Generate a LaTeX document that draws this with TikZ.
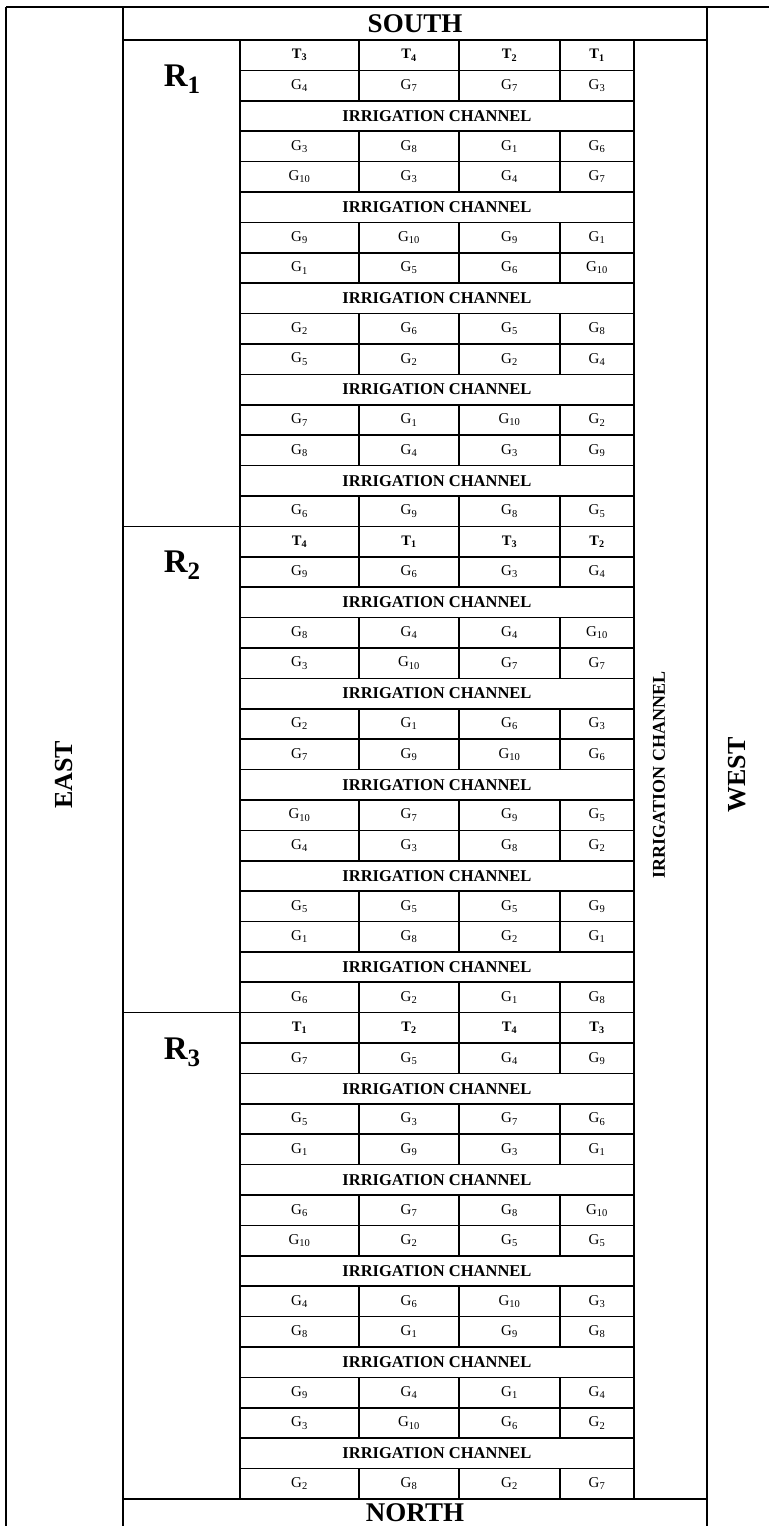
\documentclass[tikz,border=0pt]{standalone}
\usepackage{fontspec}
\usepackage{graphicx}
\setmainfont{Liberation Serif}
\newcommand\repsub[1]{\raisebox{-0.22em}{\fontsize{25}{25}\selectfont #1}}
\begin{document}
\begin{tikzpicture}[x=1pt,y=-1pt,line width=1.6pt,
  cell/.style={draw,rectangle,inner sep=0pt,outer sep=0pt,minimum height=30.396pt,font=\fontsize{15}{15}\selectfont},
  tcell/.style={cell,font=\fontsize{14.5}{14.5}\selectfont\bfseries},
  chan/.style={cell,minimum width=394pt,font=\fontsize{16.5}{16.5}\selectfont\bfseries},
  head/.style={inner sep=0pt,font=\fontsize{27}{27}\selectfont\bfseries},
  side/.style={inner sep=0pt,rotate=90,font=\fontsize{26}{26}\selectfont\bfseries},
  vchan/.style={inner sep=0pt,rotate=90,font=\fontsize{18}{18}\selectfont\bfseries},
  rep/.style={inner sep=0pt,font=\fontsize{33}{33}\selectfont\bfseries}]
\useasboundingbox (0,0) rectangle (769,1526);
% frame
\draw (6,7) -- (769,7);
\draw (6,7) -- (6,1526);
\draw (123,7) -- (123,1526);
\draw (707,7) -- (707,1526);
\draw (123,40) -- (707,40);
\draw (123,1499) -- (707,1499);
\draw (123,526.33) -- (240,526.33);
\draw (123,1012.67) -- (240,1012.67);
\draw (634,40) -- (634,1499);
% headers
\node[head] (south) at (415,24) {SOUTH};
\node[head] (north) at (415,1513) {NORTH};
\node[side] (east) at (64,775) {EAST};
\node[side] (west) at (737,775) {WEST};
\node[vchan] (vch) at (659,775) {IRRIGATION CHANNEL};
\node[rep] (r1) at (182,79) {R\repsub{1}};
\node[rep] (r2) at (182,565) {R\repsub{2}};
\node[rep] (r3) at (182,1052) {R\repsub{3}};
% treatment rows
\foreach \i/\a/\b/\c/\d in {0/3/4/2/1,16/4/1/3/2,32/1/2/4/3}{
  \pgfmathsetmacro\yc{40+(\i+0.5)*30.396}
  \node[tcell,minimum width=119pt] (t\i a) at (299.5,\yc) {T\textsubscript{\a}};
  \node[tcell,minimum width=100pt] (t\i b) at (409,\yc) {T\textsubscript{\b}};
  \node[tcell,minimum width=101pt] (t\i c) at (509.5,\yc) {T\textsubscript{\c}};
  \node[tcell,minimum width=74pt] (t\i d) at (597,\yc) {T\textsubscript{\d}};
}
% genotype rows
\foreach \i/\a/\b/\c/\d in {
  1/4/7/7/3, 3/3/8/1/6, 4/10/3/4/7, 6/9/10/9/1, 7/1/5/6/10,
  9/2/6/5/8, 10/5/2/2/4, 12/7/1/10/2, 13/8/4/3/9, 15/6/9/8/5,
  17/9/6/3/4, 19/8/4/4/10, 20/3/10/7/7, 22/2/1/6/3, 23/7/9/10/6,
  25/10/7/9/5, 26/4/3/8/2, 28/5/5/5/9, 29/1/8/2/1, 31/6/2/1/8,
  33/7/5/4/9, 35/5/3/7/6, 36/1/9/3/1, 38/6/7/8/10, 39/10/2/5/5,
  41/4/6/10/3, 42/8/1/9/8, 44/9/4/1/4, 45/3/10/6/2, 47/2/8/2/7}{
  \pgfmathsetmacro\yc{40+(\i+0.5)*30.396}
  \node[cell,minimum width=119pt] (g\i a) at (299.5,\yc) {G\textsubscript{\a}};
  \node[cell,minimum width=100pt] (g\i b) at (409,\yc) {G\textsubscript{\b}};
  \node[cell,minimum width=101pt] (g\i c) at (509.5,\yc) {G\textsubscript{\c}};
  \node[cell,minimum width=74pt] (g\i d) at (597,\yc) {G\textsubscript{\d}};
}
% irrigation channel rows
\foreach \i in {2,5,8,11,14,18,21,24,27,30,34,37,40,43,46}{
  \pgfmathsetmacro\yc{40+(\i+0.5)*30.396}
  \node[chan] (ic\i) at (437,\yc) {IRRIGATION CHANNEL};
}
\end{tikzpicture}
\end{document}
